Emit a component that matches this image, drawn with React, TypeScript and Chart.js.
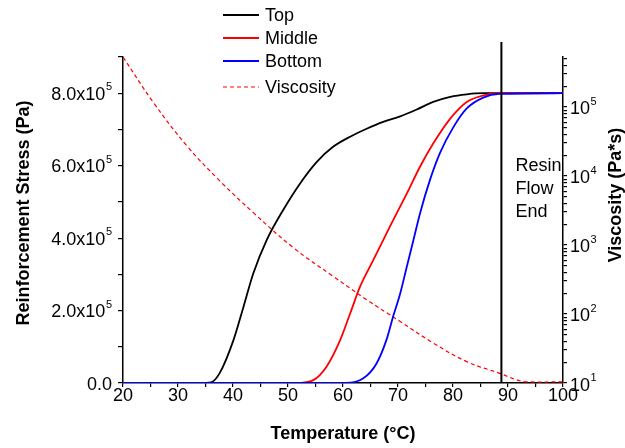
import React, { useEffect, useRef } from 'react';
import { Chart, registerables } from 'chart.js';

Chart.register(...registerables);

const FONT = '"Liberation Sans", Arial, Helvetica, sans-serif';

// Temperature (°C) / reinforcement stress (Pa)
const topT = [20, 34, 36, 37.6, 40.1, 41.9, 43.7, 46.1, 49.1, 52.2, 55.2, 58.2, 61.3, 64.3, 67.3, 70.4, 73.4, 76.4, 79.5, 82.5, 85.5, 88, 100];
const topStress = [0, 0, 2e3, 2.8e4, 1.19e5, 2.1e5, 3.03e5, 3.94e5, 4.77e5, 5.51e5, 6.1e5, 6.52e5, 6.8e5, 7.02e5, 7.21e5, 7.36e5, 7.55e5, 7.76e5, 7.9e5, 7.97e5, 8.0e5, 8.0e5, 8.0e5];

const midT = [20, 51.5, 54.6, 57.0, 59.5, 61.3, 63.1, 65.5, 68.5, 71.6, 74, 76.4, 79.5, 82.5, 85.5, 88.5, 100];
const midStress = [0, 0, 8e3, 4.5e4, 1.19e5, 1.92e5, 2.66e5, 3.39e5, 4.31e5, 5.23e5, 5.97e5, 6.61e5, 7.3e5, 7.76e5, 7.94e5, 8.0e5, 8.0e5];

const botT = [20, 60.5, 63.7, 66.1, 67.9, 69.1, 70.4, 71.6, 72.8, 74, 75.8, 77.6, 80.1, 82.5, 85.5, 88.5, 100];
const botStress = [0, 0, 1.3e4, 5.4e4, 1.19e5, 1.83e5, 2.47e5, 3.21e5, 3.94e5, 4.68e5, 5.6e5, 6.34e5, 7.07e5, 7.58e5, 7.88e5, 7.98e5, 8.0e5];

// Viscosity (Pa*s)
const viscT = [20, 25.5, 31.6, 37.6, 43.7, 51.0, 58.2, 64.3, 70.4, 76.4, 82.5, 88.5, 91.6, 93.4, 100];
const visc = [5.3e5, 1.17e5, 2.74e4, 8.5e3, 2.94e3, 910, 352, 161, 78, 38, 20.4, 13.8, 11.1, 10.4, 10.4];

const flowEndT = 88.8;
const flowEndLabel = ['Resin', 'Flow', 'End'];
const flowEndLabelStress = 6.0e5;

const xTicks = { min: 20, max: 100, step: 5, labelEvery: 10 };
const yTicks = { min: 0, max: 9e5, step: 1e5, labelEvery: 2e5 };
const y2Range = { min: 10, max: 5.3e5 };

const zip = (xs: number[], ys: number[]) => xs.map((x, i) => ({ x, y: ys[i] }));

// Draw "base^exp" tick label (label stored as "base^exp")
function drawSupLabel(ctx: CanvasRenderingContext2D, label: string, x: number, y: number, align: 'left' | 'right') {
  const [base, exp] = label.split('^');
  ctx.textAlign = 'left';
  ctx.textBaseline = 'alphabetic';
  ctx.font = `18px ${FONT}`;
  const bw = ctx.measureText(base).width;
  ctx.font = `11px ${FONT}`;
  const ew = exp ? ctx.measureText(exp).width + 0.5 : 0;
  const x0 = align === 'right' ? x - bw - ew : x;
  const baseline = y + 6.5;
  ctx.font = `18px ${FONT}`;
  ctx.fillText(base, x0, baseline);
  if (exp) {
    ctx.font = `11px ${FONT}`;
    ctx.fillText(exp, x0 + bw + 0.5, baseline - 9.5);
  }
}

const overlay = {
  id: 'overlay',
  afterDraw(chart: any) {
    const { ctx, chartArea, scales } = chart;
    const x = scales.x;
    const y = scales.y;
    const y2 = scales.y2;
    ctx.save();
    ctx.fillStyle = '#000';

    // Tick labels with superscripts
    y.ticks.forEach((t: any) => {
      if (t.label) drawSupLabel(ctx, t.label, chartArea.left - 11, y.getPixelForValue(t.value), 'right');
    });
    y2.ticks.forEach((t: any) => {
      if (t.label) drawSupLabel(ctx, t.label, chartArea.right + 7, y2.getPixelForValue(t.value) + 1, 'left');
    });

    // Resin flow end line
    const fx = x.getPixelForValue(flowEndT);
    ctx.strokeStyle = '#000';
    ctx.lineWidth = 2;
    ctx.beginPath();
    ctx.moveTo(fx, chartArea.top - 15);
    ctx.lineTo(fx, chartArea.bottom);
    ctx.stroke();
    ctx.font = `18px ${FONT}`;
    ctx.textAlign = 'left';
    ctx.textBaseline = 'middle';
    const ly = y.getPixelForValue(flowEndLabelStress);
    flowEndLabel.forEach((t, i) => ctx.fillText(t, fx + 14, ly + i * 23));

    // Legend
    const ds = chart.data.datasets;
    const legY = [15, 38, 61, 87];
    ds.forEach((d: any, i: number) => {
      const yy = legY[i];
      ctx.strokeStyle = d.borderColor;
      ctx.lineWidth = d.borderDash ? 1 : 1.8;
      ctx.setLineDash(d.borderDash || []);
      ctx.beginPath();
      ctx.moveTo(223, yy);
      ctx.lineTo(259, yy);
      ctx.stroke();
      ctx.setLineDash([]);
      ctx.fillStyle = '#000';
      ctx.fillText(d.label, 265, yy + 1);
    });

    // Axis titles (vertical)
    ctx.font = `bold 18px ${FONT}`;
    ctx.textAlign = 'center';
    ctx.textBaseline = 'middle';
    ctx.save();
    ctx.translate(24, 213);
    ctx.rotate(-Math.PI / 2);
    ctx.fillText('Reinforcement Stress (Pa)', 0, 0);
    ctx.restore();
    ctx.save();
    ctx.translate(616, 195);
    ctx.rotate(-Math.PI / 2);
    ctx.fillText('Viscosity (Pa*s)', 0, 0);
    ctx.restore();
    ctx.restore();
  },
};

export default function App() {
  const ref = useRef<HTMLCanvasElement>(null);
  useEffect(() => {
    if (!ref.current) return;
    const axisGrid = { drawOnChartArea: false, drawTicks: true, tickLength: 5, color: '#000', lineWidth: 1.2 };
    const border = { display: true, color: '#000', width: 1.5 };
    const tickFont = { family: FONT, size: 18 };
    const chart = new Chart(ref.current, {
      type: 'line',
      data: {
        datasets: [
          { label: 'Top', data: zip(topT, topStress), borderColor: '#000000', borderWidth: 1.8, yAxisID: 'y', order: 3 },
          { label: 'Middle', data: zip(midT, midStress), borderColor: '#ff0000', borderWidth: 1.8, yAxisID: 'y', order: 2 },
          { label: 'Bottom', data: zip(botT, botStress), borderColor: '#0000ff', borderWidth: 1.8, yAxisID: 'y', order: 1 },
          { label: 'Viscosity', data: zip(viscT, visc), borderColor: '#ff0000', borderWidth: 1.2, borderDash: [4, 3], yAxisID: 'y2', order: 4, cubicInterpolationMode: 'default', tension: 0.4 },
        ] as any,
      },
      options: {
        animation: false,
        responsive: false,
        events: [],
        layout: { padding: { top: 57, left: 0, right: 0, bottom: 0 } },
        elements: {
          point: { radius: 0 },
          line: { cubicInterpolationMode: 'monotone', fill: false },
        },
        plugins: { legend: { display: false }, tooltip: { enabled: false } },
        scales: {
          x: {
            type: 'linear',
            min: xTicks.min,
            max: xTicks.max,
            grid: { ...axisGrid, tickLength: 4 },
            border,
            ticks: {
              stepSize: xTicks.step,
              autoSkip: false,
              maxRotation: 0,
              padding: -2,
              color: '#000',
              font: tickFont,
              callback: (v: any) => (v % xTicks.labelEvery === 0 ? String(v) : ''),
            },
            title: {
              display: true,
              text: 'Temperature (°C)',
              color: '#000',
              font: { family: FONT, size: 18, weight: 'bold' },
              padding: { top: 0, bottom: 3 },
            },
            afterFit: (s: any) => { s.height = 65; },
          },
          y: {
            type: 'linear',
            position: 'left',
            min: yTicks.min,
            max: yTicks.max,
            grid: axisGrid,
            border,
            ticks: {
              stepSize: yTicks.step,
              autoSkip: false,
              padding: 6,
              color: 'rgba(0,0,0,0)',
              font: tickFont,
              callback: (v: any) => {
                if (v === 0) return '0.0';
                if (Math.abs(v % yTicks.labelEvery) < 1) return `${(v / 1e5).toFixed(1)}x10^5`;
                return '';
              },
            },
            afterFit: (s: any) => { s.width = 123; },
          },
          y2: {
            type: 'logarithmic',
            position: 'right',
            min: y2Range.min,
            max: y2Range.max,
            grid: { ...axisGrid, tickLength: 4 },
            border,
            afterBuildTicks: (s: any) => {
              const ticks: any[] = [];
              for (let e = 1; e <= 5; e++) {
                for (let k = 1; k <= 9; k++) {
                  const v = k * Math.pow(10, e);
                  if (v >= y2Range.min && v <= y2Range.max) ticks.push({ value: v, major: k === 1 });
                }
              }
              s.ticks = ticks;
            },
            ticks: {
              autoSkip: false,
              padding: 3,
              color: 'rgba(0,0,0,0)',
              font: tickFont,
              callback: (v: any) => {
                const e = Math.log10(v);
                return Math.abs(e - Math.round(e)) < 1e-9 ? `10^${Math.round(e)}` : '';
              },
            },
            afterFit: (s: any) => { s.width = 62; },
          },
        },
      } as any,
      plugins: [overlay],
    });
    return () => chart.destroy();
  }, []);
  return (
    <div style={{ position: 'absolute', left: 0, top: 0, width: 625, height: 448, background: '#fff' }}>
      <canvas ref={ref} width={625} height={448} style={{ width: 625, height: 448, display: 'block' }} />
    </div>
  );
}
